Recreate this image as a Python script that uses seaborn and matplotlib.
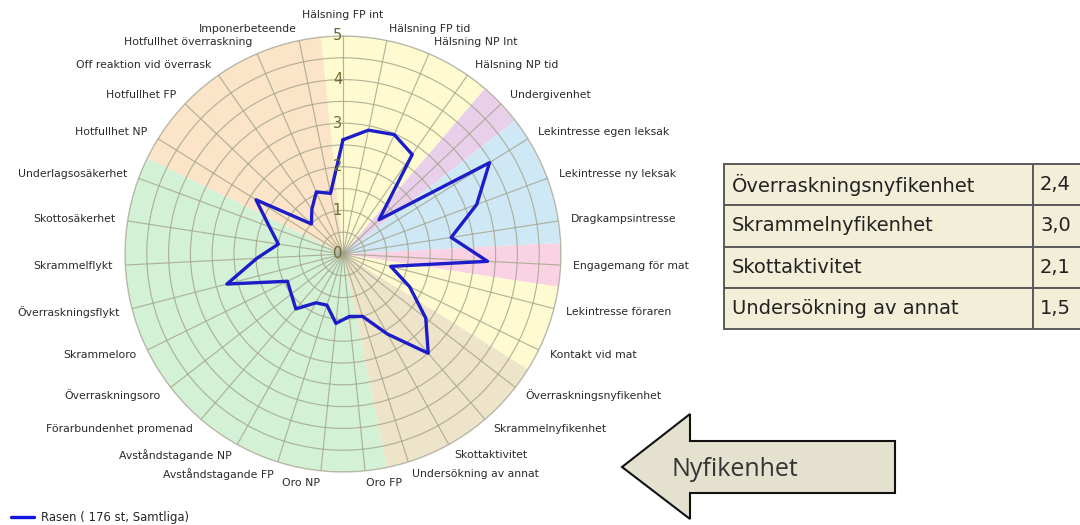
import matplotlib
matplotlib.use("Agg")
import matplotlib.pyplot as plt
import seaborn as sns
import numpy as np
import pandas as pd
from matplotlib.patches import Polygon

# category names, clockwise from the top
categories = [
    "Hälsning FP int", "Hälsning FP tid", "Hälsning NP Int", "Hälsning NP tid",
    "Undergivenhet", "Lekintresse egen leksak", "Lekintresse ny leksak",
    "Dragkampsintresse", "Engagemang för mat", "Lekintresse föraren",
    "Kontakt vid mat", "Överraskningsnyfikenhet", "Skrammelnyfikenhet",
    "Skottaktivitet", "Undersökning av annat", "Oro FP", "Oro NP",
    "Avståndstagande FP", "Avståndstagande NP", "Förarbundenhet promenad",
    "Överraskningsoro", "Skrammeloro", "Överraskningsflykt", "Skrammelflykt",
    "Skottosäkerhet", "Underlagsosäkerhet", "Hotfullhet NP", "Hotfullhet FP",
    "Off reaktion vid överrask", "Hotfullhet överraskning", "Imponerbeteende",
]

# breed average (Rasen, 176 st)
rasen_values = [
    2.62, 2.90, 2.98, 2.78, 1.14, 3.96, 3.27, 2.51, 3.32, 1.13, 1.70,
    2.40, 3.00, 2.10, 1.50, 1.44, 1.60, 1.23, 1.28, 1.66, 1.50, 1.42,
    2.75, 1.98, 1.50, 1.80, 2.35, 1.00, 1.25, 1.55, 1.42,
]
series_label = "Rasen ( 176 st, Samtliga)"

# background sectors: number of categories per group and their colour
band_sizes = [4, 1, 3, 1, 2, 4, 11, 5]
band_colors = ["#fefbd0", "#e9cfe9", "#cfe8f5", "#f9d3e4",
               "#fefbd0", "#eee4c9", "#d3f1d4", "#fbe4c7"]

# side table
table_names = ["Överraskningsnyfikenhet", "Skrammelnyfikenhet",
               "Skottaktivitet", "Undersökning av annat"]
table_values = ["2,4", "3,0", "2,1", "1,5"]
arrow_text = "Nyfikenhet"

sns.set_theme(style="white")
plt.rcParams["font.family"] = ["DejaVu Sans"]

W, H = 1080, 525
fig = plt.figure(figsize=(W / 100, H / 100), dpi=100)

cx, cy, rad = 343, 254, 218
ax = fig.add_axes([(cx - rad) / W, (H - cy - rad) / H, 2 * rad / W, 2 * rad / H],
                  projection="polar")
ax.set_theta_zero_location("N")
ax.set_theta_direction(-1)

n = len(categories)
step = 2 * np.pi / n
angles = np.arange(n) * step

# coloured sectors
start = 0
for size, col in zip(band_sizes, band_colors):
    centre = (start + (size - 1) / 2) * step
    ax.bar(centre, 5, width=size * step, bottom=0, color=col,
           edgecolor="none", zorder=0)
    start += size

# data line (closed polygon)
df = pd.DataFrame({
    "theta": np.append(angles, angles[0] + 2 * np.pi),
    "value": rasen_values + rasen_values[:1],
})
sns.lineplot(data=df, x="theta", y="value", ax=ax, sort=False,
             color="#1c1cc8", linewidth=2.4, label=series_label, zorder=5)

ax.set_ylim(0, 5)
ax.set_xticks(angles)
ax.set_xticklabels([])
ax.set_yticks(np.arange(0.5, 5.01, 0.5))
ax.set_yticklabels([])
ax.set_xlabel("")
ax.set_ylabel("")
ax.set_axisbelow(False)
ax.grid(True, color="#a3a38c", linewidth=0.85, alpha=0.8)
ax.spines["polar"].set_color("#c9c9c0")
ax.spines["polar"].set_linewidth(1.0)
ax.set_facecolor("white")

# radial scale numbers along the top spoke
for v in range(6):
    ax.annotate(str(v), xy=(0, v), xytext=(-4, 0), textcoords="offset points",
                ha="center", va="center", fontsize=10.5, color="#6b6b35",
                zorder=6)

# category labels
for a, name in zip(angles, categories):
    deg = np.degrees(a)
    if deg < 1:
        ax.text(a, 5.48, name, ha="center", va="center", fontsize=7.8,
                color="#2a2a2a")
        continue
    ha = "left" if deg < 180 else "right"
    ax.text(a, 5.28, name, ha=ha, va="center", fontsize=7.8, color="#2a2a2a")

# legend at the bottom left
leg = ax.legend(loc="lower left", bbox_to_anchor=(0.0, -0.018),
                bbox_transform=fig.transFigure, frameon=False,
                fontsize=8.4, handlelength=2.0, handletextpad=0.6)
for line in leg.get_lines():
    line.set_linewidth(2.4)
    line.set_color("#1414e0")

# side table
tx0, tx1, ty0, ty1 = 724, 1092, 164, 329
tax = fig.add_axes([tx0 / W, (H - ty1) / H, (tx1 - tx0) / W, (ty1 - ty0) / H])
tax.axis("off")
name_w = (1033 - tx0) / (tx1 - tx0)
tbl = tax.table(cellText=[[a, b] for a, b in zip(table_names, table_values)],
                colWidths=[name_w, 1 - name_w], cellLoc="left",
                bbox=[0, 0, 1, 1])
tbl.auto_set_font_size(False)
for (r, c), cell in tbl.get_celld().items():
    cell.set_facecolor("#f3eed8")
    cell.set_edgecolor("#5a5a5a")
    cell.set_linewidth(1.4)
    cell.get_text().set_fontsize(14)
    cell.get_text().set_color("#222222")
    cell.PAD = 0.026 if c == 0 else 0.12

# arrow pointing at the table rows in the chart
arrow_px = [(622, 467), (690, 414), (690, 441), (895, 441),
            (895, 493), (690, 493), (690, 519)]
arrow = Polygon([(x / W, 1 - y / H) for x, y in arrow_px], closed=True,
                transform=fig.transFigure, facecolor="#e5e1cf",
                edgecolor="#111111", linewidth=1.5)
fig.patches.append(arrow)
fig.text(672 / W, 1 - 469 / H, arrow_text, ha="left", va="center",
         fontsize=18, color="#333333", family=["Open Sans", "DejaVu Sans"])

fig.savefig("out.png", dpi=100)
